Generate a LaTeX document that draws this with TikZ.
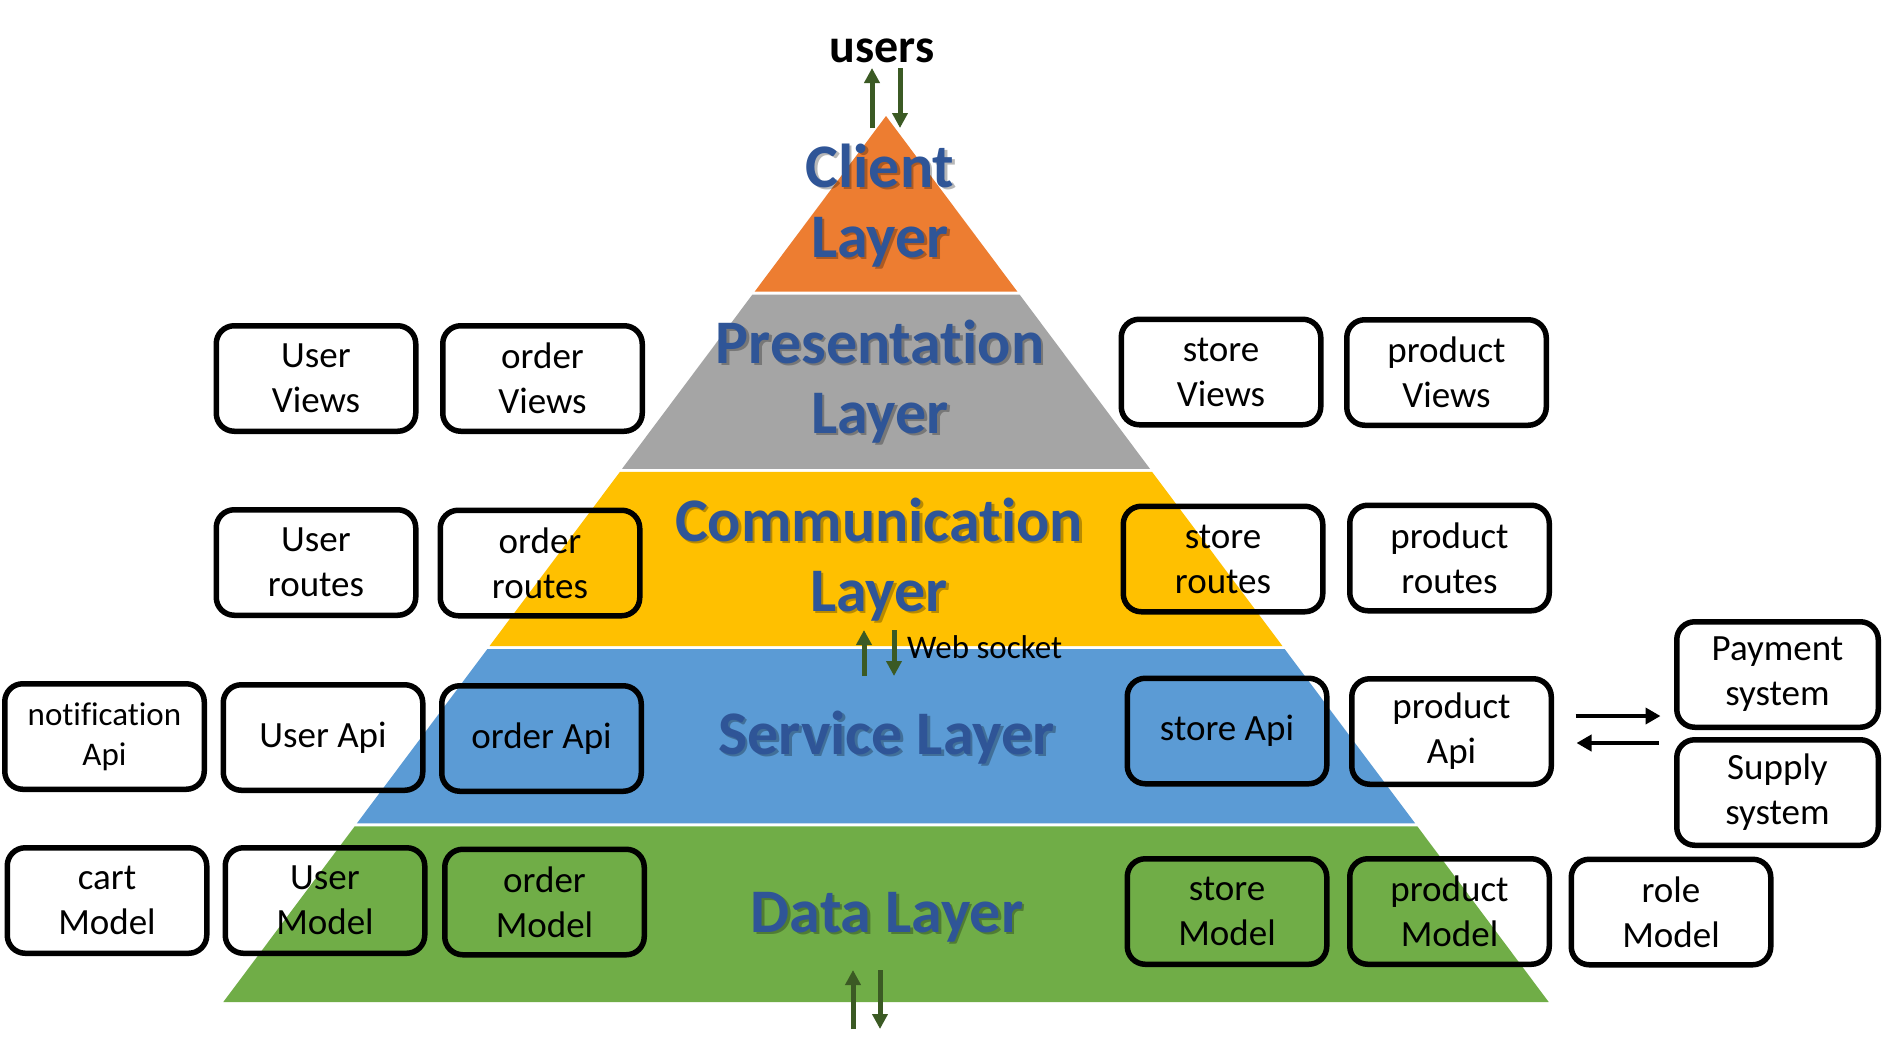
\documentclass[tikz,border=0pt]{standalone}
\usepackage{fontspec}
\setmainfont[Ligatures={NoCommon,NoContextual,NoRequired},Contextuals=NoAlternate]{Carlito}
\usetikzlibrary{arrows.meta,calc}
\definecolor{cOrange}{HTML}{ED7D31}
\definecolor{cGray}{HTML}{A5A5A5}
\definecolor{cYellow}{HTML}{FFC000}
\definecolor{cBlue}{HTML}{5B9BD5}
\definecolor{cGreen}{HTML}{70AD47}
\definecolor{cTitle}{HTML}{2F5597}
\definecolor{cArrow}{HTML}{3B5A24}
\newcommand{\twolines}[2]{\rule{0pt}{50pt}#1\\#2\rule[-18pt]{0pt}{18pt}}
\begin{document}
\begin{tikzpicture}[x=1pt,y=-1pt,
  box/.style={draw=black, line width=5.5pt, rounded corners=18pt, minimum width=199.5pt,
    minimum height=105.5pt, align=center, inner sep=0pt, text=black,
    font=\fontsize{37}{45}\selectfont},
  smallbox/.style={box, font=\fontsize{33}{40}\selectfont},
  ttl/.style={text=cTitle, align=center, inner sep=0pt,
    font=\bfseries\fontsize{62}{70}\selectfont},
  ttlshadow/.style={ttl, text=black, text opacity=0.28},
  garrow/.style={draw=cArrow, line width=5pt, -{Triangle[length=15pt,width=15pt]}},
  barrow/.style={draw=black, line width=4pt, -{Triangle[length=15pt,width=16pt]}},
]
\useasboundingbox (0,0) rectangle (1882,1045);
\fill[white] (0,0) rectangle (1882,1045);

% pyramid layers
\fill[cOrange] (886,116) -- (1017.4,291.7) -- (754.6,291.7) -- cycle;
\fill[cGray] (752.3,294.7) -- (1019.7,294.7) -- (1150.0,468.9) -- (622.0,468.9) -- cycle;
\fill[cYellow] (619.9,471.9) -- (1152.1,471.9) -- (1282.5,646.1) -- (489.5,646.1) -- cycle;
\fill[cBlue] (487.3,649.1) -- (1284.7,649.1) -- (1415.1,823.3) -- (356.9,823.3) -- cycle;
\fill[cGreen] (354.7,826.3) -- (1417.3,826.3) -- (1548.7,1002) -- (223.3,1002) -- cycle;

% layer titles (shadow + text)
\node[ttlshadow] (clientS) at (882.5,208.5) {\twolines{Client}{Layer}};
\node[ttl] (client) at (880,206) {\twolines{Client}{Layer}};
\node[ttlshadow] (presS) at (882.5,384.5) {\twolines{Presentation}{Layer}};
\node[ttl] (pres) at (880,382) {\twolines{Presentation}{Layer}};
\node[ttlshadow] (commS) at (881.5,562.5) {\twolines{Communication}{Layer}};
\node[ttl] (comm) at (879,560) {\twolines{Communication}{Layer}};
\node[ttlshadow, anchor=base] (servS) at (889,756.5) {Service Layer};
\node[ttl, anchor=base] (serv) at (886.5,754) {Service Layer};
\node[ttlshadow, anchor=base] (dataS) at (889.5,934.5) {Data Layer};
\node[ttl, anchor=base] (data) at (887,932) {Data Layer};

% users
\node[anchor=base, inner sep=0pt, font=\bfseries\fontsize{48}{56}\selectfont] (users) at (882,62) {users};
\coordinate (uUpS) at (872,128);
\coordinate (uUpE) at (872,68);
\coordinate (uDnS) at (900,68);
\coordinate (uDnE) at (900,128);
\draw[garrow] (uUpS) -- (uUpE);
\draw[garrow] (uDnS) -- (uDnE);

% web socket
\coordinate (wUpS) at (864,676);
\coordinate (wUpE) at (864,630);
\coordinate (wDnS) at (894,630);
\coordinate (wDnE) at (894,676);
\draw[garrow] (wUpS) -- (wUpE);
\draw[garrow] (wDnS) -- (wDnE);
\node[anchor=base west, inner sep=0pt, font=\fontsize{33}{39}\selectfont] (ws) at (907,658) {Web socket};

% bottom arrows
\coordinate (bUpS) at (853,1029);
\coordinate (bUpE) at (853,970);
\coordinate (bDnS) at (880,970);
\coordinate (bDnE) at (880,1029);
\draw[garrow] (bUpS) -- (bUpE);
\draw[garrow] (bDnS) -- (bDnE);

% boxes
\node[box] (UserViews) at (316,378.5) {User\\Views};
\node[box] (orderViews) at (542.5,378.5) {order\\Views};
\node[box] (storeViews) at (1221,372) {store\\Views};
\node[box] (productViews) at (1446.5,372.5) {product\\Views};

\node[box] (UserRoutes) at (316,562.5) {User\\routes};
\node[box] (orderRoutes) at (540,563) {order\\routes};
\node[box] (storeRoutes) at (1223,559) {store\\routes};
\node[box] (productRoutes) at (1449.5,558) {product\\routes};

\node[smallbox] (notifApi) at (104.5,736.5) {notification\\Api};
\node[box] (UserApi) at (323,737.5) {User Api};
\node[box] (orderApi) at (541.5,738.5) {order Api};
\node[box] (storeApi) at (1227,731) {store Api};
\node[box] (productApi) at (1451.5,731.5) {product\\Api};
\node[box, minimum width=201.5pt] (payment) at (1777.5,674.5) {Payment\\system};
\node[box, minimum width=201.5pt] (supply) at (1777.5,792.5) {Supply\\system};

\node[box] (cartModel) at (107,900.5) {cart\\Model};
\node[box] (UserModel) at (325,900.5) {User\\Model};
\node[box] (orderModel) at (544.5,902) {order\\Model};
\node[box] (storeModel) at (1227,911.5) {store\\Model};
\node[box] (productModel) at (1449.5,911.5) {product\\Model};
\node[box] (roleModel) at (1671,912) {role\\Model};

% external system arrows
\draw[barrow] ($(productApi.east)+(21.5,-15.5)$) -- ($(productApi.east -| payment.west)+(-13.5,-15.5)$);
\draw[barrow] ($(productApi.east -| supply.west)+(-15.5,11.5)$) -- ($(productApi.east)+(22.5,11.5)$);
\end{tikzpicture}
\end{document}
